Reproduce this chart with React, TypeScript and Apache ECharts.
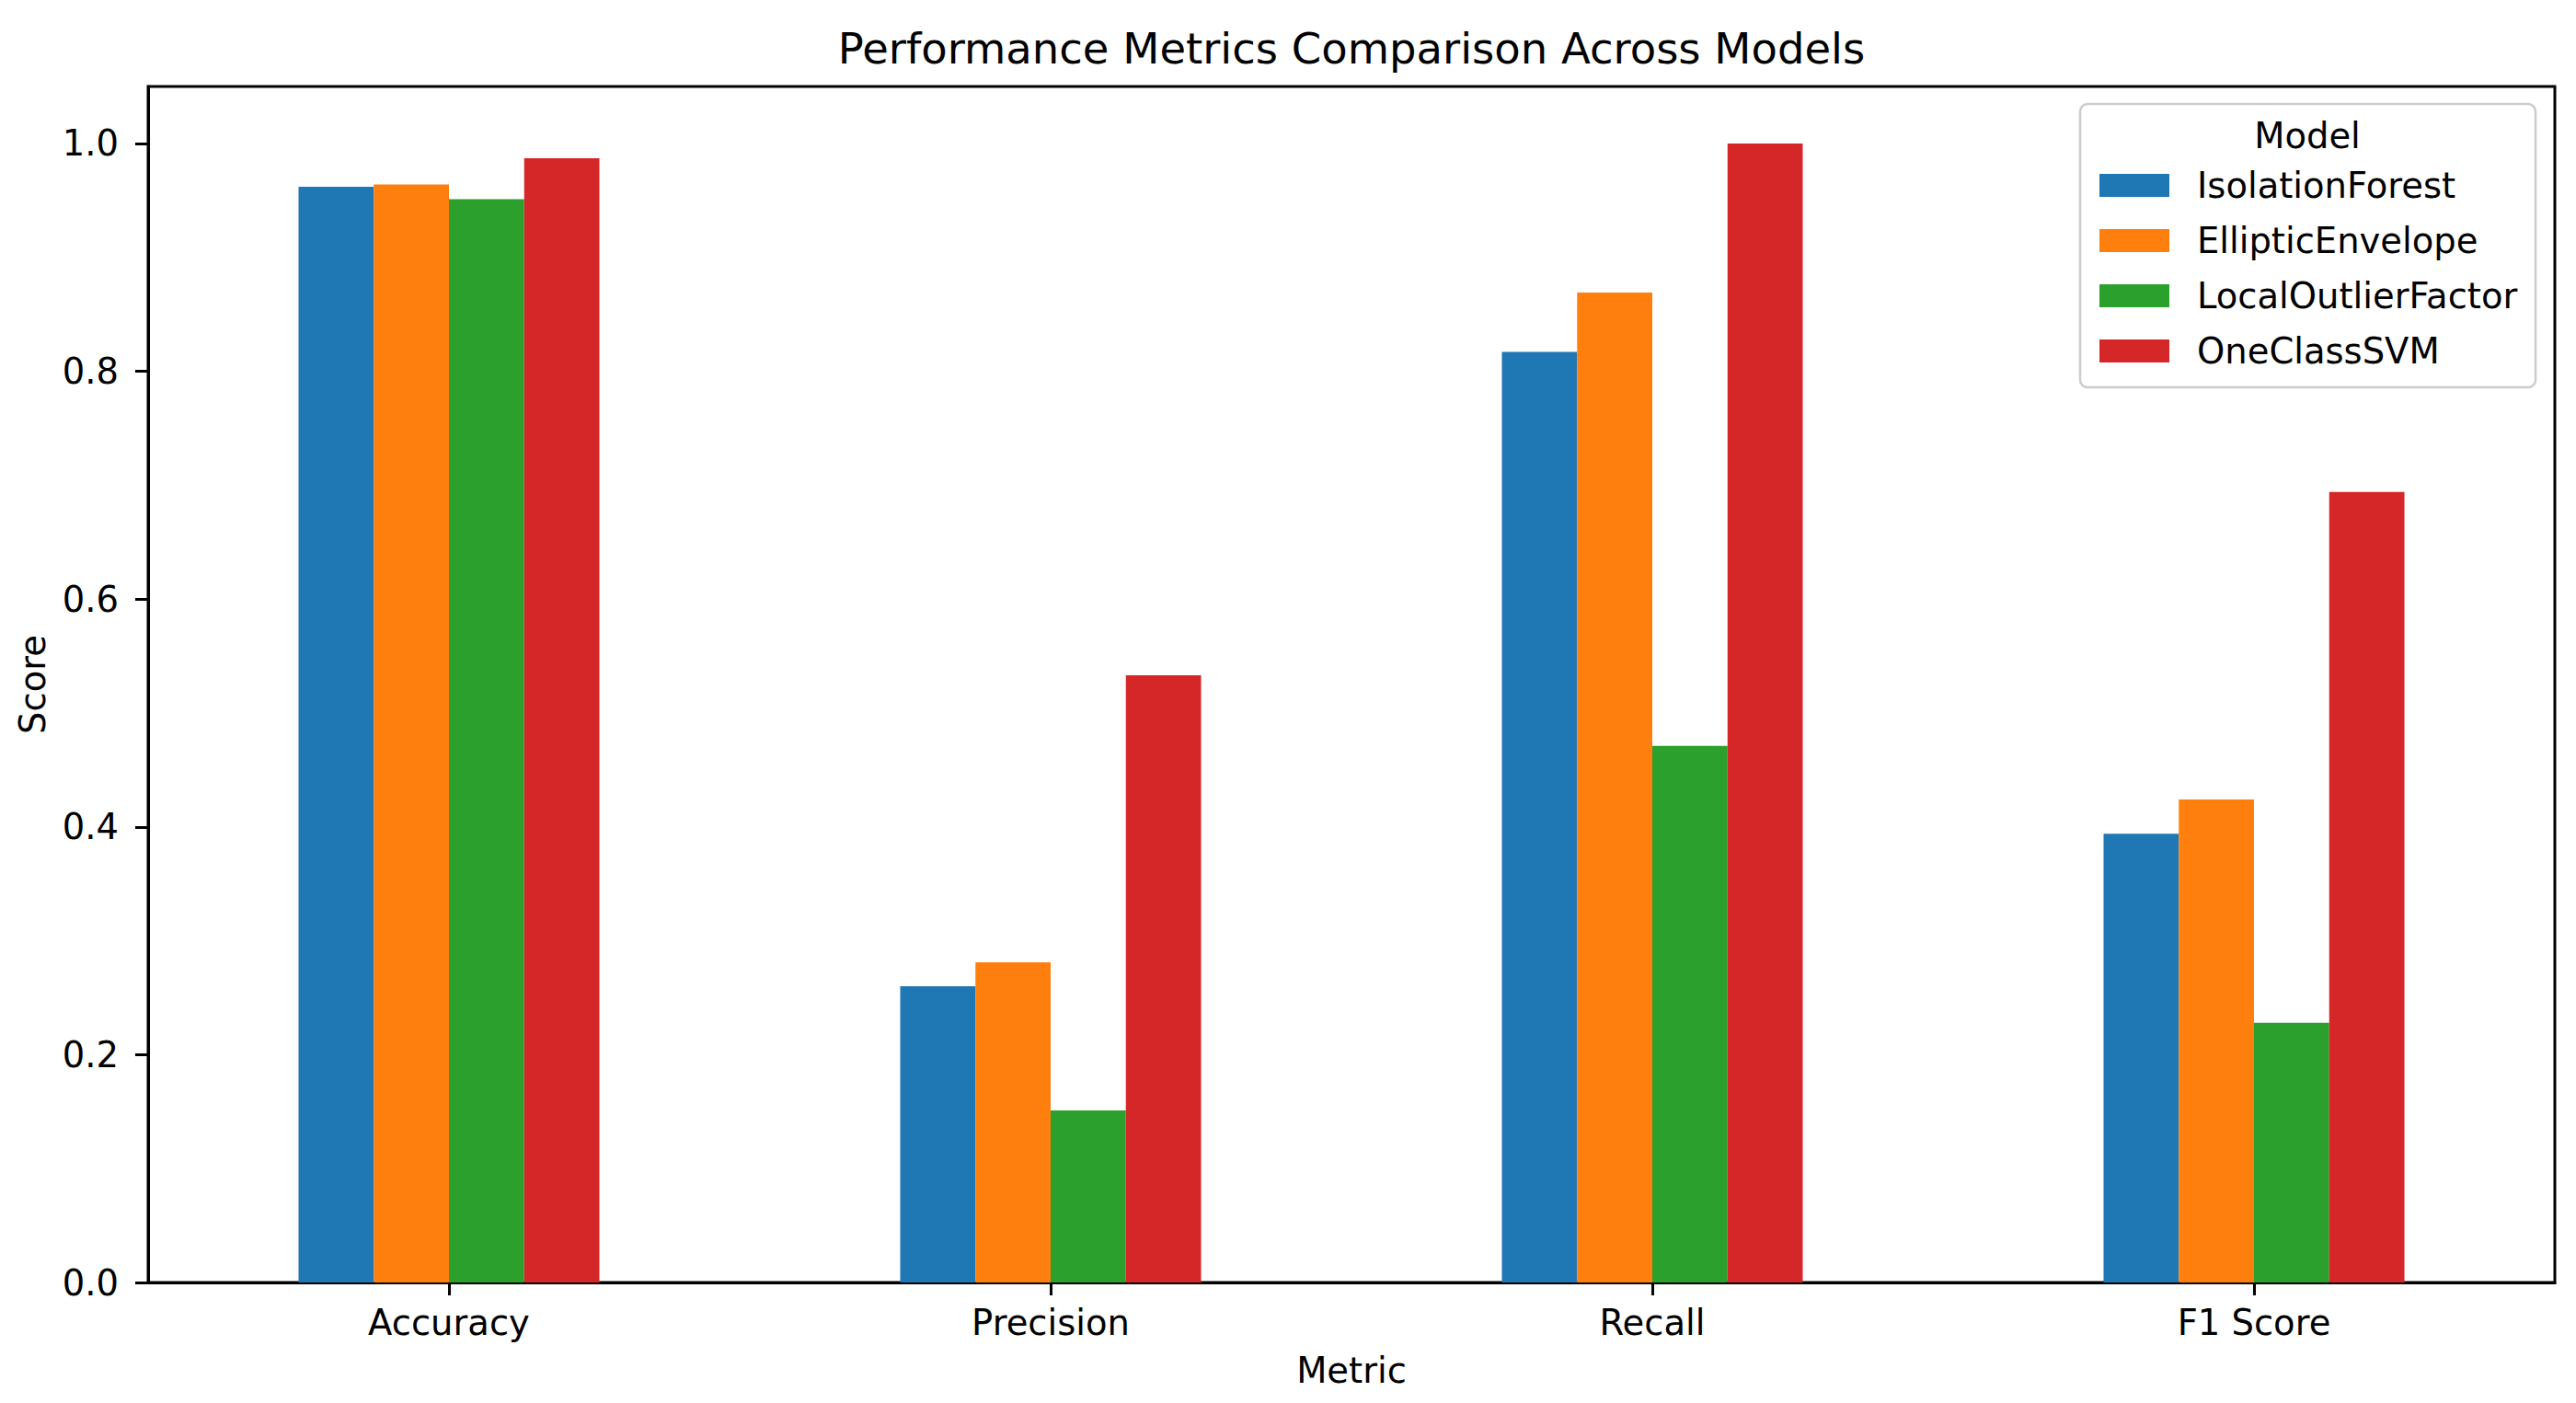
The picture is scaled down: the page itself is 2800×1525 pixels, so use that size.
import React, { useEffect, useRef } from "react";
import * as echarts from "echarts";

const metrics = ["Accuracy", "Precision", "Recall", "F1 Score"];
const modelNames = ["IsolationForest", "EllipticEnvelope", "LocalOutlierFactor", "OneClassSVM"];
const isolationForest = [0.962, 0.26, 0.817, 0.394];
const ellipticEnvelope = [0.964, 0.281, 0.869, 0.424];
const localOutlierFactor = [0.951, 0.151, 0.471, 0.228];
const oneClassSVM = [0.987, 0.533, 1.0, 0.694];
const seriesValues = [isolationForest, ellipticEnvelope, localOutlierFactor, oneClassSVM];
const colors = ["#1f77b4", "#ff7f0e", "#2ca02c", "#d62728"];
const yTicks = [0, 0.2, 0.4, 0.6, 0.8, 1.0];

const FONT = "DejaVu Sans";
const FS = 38.5;

export default function App() {
  const ref = useRef<HTMLDivElement>(null);
  useEffect(() => {
    if (!ref.current) return;
    const chart = echarts.init(ref.current, null, { renderer: "svg" });
    chart.setOption({
      animation: false,
      backgroundColor: "#ffffff",
      textStyle: { fontFamily: FONT },
      grid: {
        left: 161,
        right: 23,
        top: 94,
        bottom: 131,
        show: true,
        borderColor: "#000",
        borderWidth: 3,
        backgroundColor: "transparent",
        containLabel: false,
        outerBoundsMode: "none",
      },
      xAxis: {
        type: "category",
        data: metrics,
        name: "Metric",
        nameLocation: "middle",
        nameGap: 76,
        nameTextStyle: { fontSize: FS, color: "#000", fontFamily: FONT },
        axisLine: { show: true, lineStyle: { color: "#000", width: 3 } },
        axisTick: { show: true, alignWithLabel: true, length: 14, lineStyle: { color: "#000", width: 3 } },
        axisLabel: { fontSize: FS, color: "#000", margin: 24, fontFamily: FONT },
        splitLine: { show: false },
      },
      yAxis: {
        type: "value",
        min: 0,
        max: 1.05,
        interval: 0.2,
        name: "Score",
        nameLocation: "middle",
        nameGap: 106,
        nameRotate: 90,
        nameTextStyle: { fontSize: FS, color: "#000", fontFamily: FONT },
        axisLine: { show: true, lineStyle: { color: "#000", width: 3 } },
        axisTick: { show: true, length: 14, lineStyle: { color: "#000", width: 3 }, customValues: yTicks },
        axisLabel: {
          fontSize: FS,
          color: "#000",
          margin: 32,
          fontFamily: FONT,
          customValues: yTicks,
          formatter: (v: number) => v.toFixed(1),
        },
        splitLine: { show: false },
      },
      legend: {
        orient: "vertical",
        left: 2277,
        top: 177,
        z: 10,
        icon: "rect",
        itemWidth: 76,
        itemHeight: 25,
        itemGap: 21,
        data: modelNames,
        textStyle: {
          fontSize: FS,
          color: "#000",
          fontFamily: FONT,
          lineHeight: 38,
          padding: [0, 0, 0, 25],
        },
        selectedMode: false,
      },
      graphic: [
        {
          type: "text",
          x: 1469,
          y: 53,
          z: 10,
          style: {
            text: "Performance Metrics Comparison Across Models",
            fontSize: 46.5,
            fontFamily: FONT,
            fill: "#000",
            textAlign: "center",
            textVerticalAlign: "middle",
          },
        },
        {
          type: "rect",
          z: 5,
          shape: { x: 2261, y: 113, width: 495, height: 308, r: 8 },
          style: { fill: "rgba(255,255,255,0.8)", stroke: "#cccccc", lineWidth: 2.5 },
        },
        {
          type: "text",
          x: 2508,
          y: 147,
          z: 10,
          style: {
            text: "Model",
            fontSize: FS,
            fontFamily: FONT,
            fill: "#000",
            textAlign: "center",
            textVerticalAlign: "middle",
          },
        },
      ],
      series: modelNames.map((name, i) => ({
        name,
        type: "bar",
        data: seriesValues[i],
        barGap: "0%",
        barCategoryGap: "50%",
        itemStyle: { color: colors[i] },
      })),
    });
    return () => chart.dispose();
  }, []);
  return (
    <div
      ref={ref}
      style={{ position: "fixed", left: 0, top: 0, width: 2800, height: 1525, background: "#fff" }}
    />
  );
}
